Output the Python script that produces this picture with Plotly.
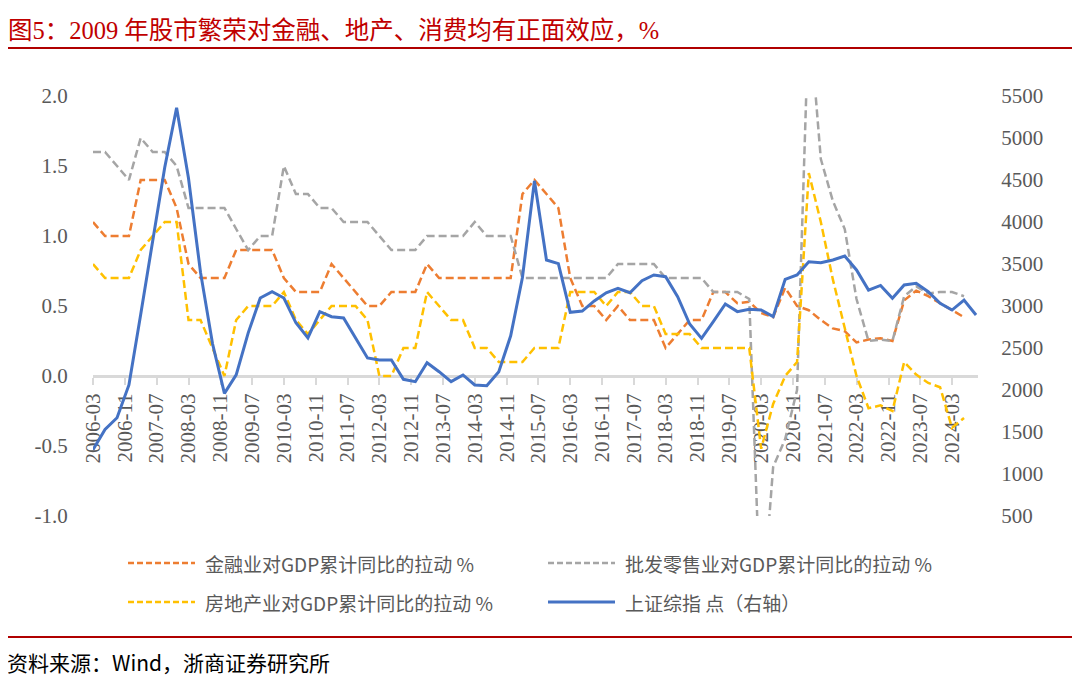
import pandas as pd
import plotly.graph_objects as go

# quarterly points, 2006-03 .. 2024-09
quarters = pd.date_range("2006-03-01", periods=75, freq="3MS")

finance = [1.1, 1.0, 1.0, 1.0, 1.4, 1.4, 1.4, 1.2, 0.8, 0.7, 0.7, 0.7,
           0.9, 0.9, 0.9, 0.9, 0.7, 0.6, 0.6, 0.6, 0.8, 0.7, 0.6, 0.5,
           0.5, 0.6, 0.6, 0.6, 0.8, 0.7, 0.7, 0.7, 0.7, 0.7, 0.7, 0.7,
           1.3, 1.4, 1.3, 1.2, 0.7, 0.5, 0.5, 0.4, 0.5, 0.4, 0.4, 0.4,
           0.2, 0.3, 0.4, 0.4, 0.6, 0.6, 0.52, 0.53, 0.45, 0.42, 0.63, 0.5,
           0.47, 0.4, 0.34, 0.32, 0.24, 0.26, 0.27, 0.25, 0.54, 0.61, 0.57, 0.52,
           0.47, 0.42]

retail = [1.6, 1.6, 1.5, 1.4, 1.7, 1.6, 1.6, 1.5, 1.2, 1.2, 1.2, 1.2,
          1.05, 0.9, 1.0, 1.0, 1.5, 1.3, 1.3, 1.2, 1.2, 1.1, 1.1, 1.1,
          1.0, 0.9, 0.9, 0.9, 1.0, 1.0, 1.0, 1.0, 1.1, 1.0, 1.0, 1.0,
          0.7, 0.7, 0.7, 0.7, 0.7, 0.7, 0.7, 0.7, 0.8, 0.8, 0.8, 0.8,
          0.7, 0.7, 0.7, 0.7, 0.6, 0.6, 0.6, 0.55, -1.77, -0.65, -0.45, -0.1,
          2.6, 1.55, 1.25, 1.05, 0.55, 0.25, 0.26, 0.25, 0.57, 0.64, 0.59, 0.6,
          0.6, 0.57]

property_ = [0.8, 0.7, 0.7, 0.7, 0.9, 1.0, 1.1, 1.1, 0.4, 0.4, 0.2, 0.0,
             0.4, 0.5, 0.5, 0.5, 0.6, 0.4, 0.3, 0.4, 0.5, 0.5, 0.5, 0.4,
             0.0, 0.0, 0.2, 0.2, 0.6, 0.5, 0.4, 0.4, 0.2, 0.2, 0.1, 0.1,
             0.1, 0.2, 0.2, 0.2, 0.6, 0.6, 0.6, 0.5, 0.6, 0.6, 0.5, 0.5,
             0.3, 0.3, 0.3, 0.2, 0.2, 0.2, 0.2, 0.2, -0.52, -0.2, 0.0, 0.1,
             1.45, 1.1, 0.69, 0.35, 0.0, -0.23, -0.21, -0.25, 0.1, 0.01, -0.05, -0.08,
             -0.37, -0.3]

sse = [1290, 1530, 1670, 2060, 2900, 3800, 4650, 5360, 4520, 3400, 2550, 1960,
       2180, 2680, 3095, 3170, 3095, 2800, 2620, 2933, 2873, 2857, 2619, 2381,
       2357, 2357, 2127, 2099, 2325, 2218, 2099, 2179, 2060, 2050, 2218, 2645,
       3340, 4490, 3548, 3505, 2925, 2940, 3060, 3158, 3211, 3158, 3301, 3369,
       3349, 3111, 2786, 2615, 2813, 3024, 2933, 2960, 2952, 2873, 3318, 3369,
       3527, 3516, 3548, 3595, 3429, 3190, 3245, 3091, 3250, 3270, 3170, 3032,
       2952, 3071, 2893]

names = ["金融业对GDP累计同比的拉动 %", "批发零售业对GDP累计同比的拉动 %",
         "房地产业对GDP累计同比的拉动 %", "上证综指 点（右轴）"]
colors = ["#ED7D31", "#A5A5A5", "#FFC000", "#4472C4"]

left_ticks = [-1.0, -0.5, 0.0, 0.5, 1.0, 1.5, 2.0]
left_text = ["-1.0", "-0.5", "0.0", "0.5", "1.0", "1.5", "2.0"]

SERIF = "Liberation Serif, 'Noto Sans CJK SC'"
CJK = "'Noto Sans CJK SC', Liberation Serif"

# the page body has an 8px margin, so work in screen pixels and shift
OFF = 8
W, H = 1080 - 2 * OFF, 684 - 2 * OFF
L, R, T, B = 93 - OFF, 978 - OFF, 96 - OFF, 516 - OFF


def px(x):
    return (x - OFF - L) / (R - L)


def py(y):
    return (B - (y - OFF)) / (B - T)


fig = go.Figure()
dash = "8px,4px"
for vals, name, c in [(finance, names[0], colors[0]), (retail, names[1], colors[1]),
                      (property_, names[2], colors[2])]:
    fig.add_trace(go.Scatter(x=quarters[:len(vals)], y=vals, name=name, mode="lines",
                             line=dict(color=c, width=2.5, dash=dash)))
fig.add_trace(go.Scatter(x=quarters, y=sse, name=names[3], mode="lines", yaxis="y2",
                         line=dict(color=colors[3], width=3)))

fig.update_layout(
    width=W, height=H,
    margin=dict(l=L, r=W - R, t=T, b=H - B),
    plot_bgcolor="white", paper_bgcolor="white",
    showlegend=False,
    title=dict(text="图5：2009 年股市繁荣对金融、地产、消费均有正面效应，%",
               x=0, xanchor="left", y=1 - (30 - OFF) / H, yanchor="middle",
               font=dict(family=SERIF, size=24.5, color="#C00000")),
    xaxis=dict(type="date", range=["2006-03-01", "2024-09-16"],
               anchor="free", position=1 / 3,  # axis line crosses at 0
               tick0="2006-03-01", dtick="M8", tickformat="%Y-%m", tickangle=-90,
               showline=True, linecolor="#D9D9D9", linewidth=3,
               ticks="outside", ticklen=7, tickwidth=2, tickcolor="#D9D9D9",
               showgrid=False, zeroline=False, layer="below traces",
               tickfont=dict(family=SERIF, size=21, color="#595959")),
    yaxis=dict(range=[-1, 2], tickvals=left_ticks, ticktext=left_text,
               showgrid=False, zeroline=False, showline=False,
               ticks="outside", ticklen=20, tickcolor="rgba(0,0,0,0)",
               tickfont=dict(family=SERIF, size=21, color="#595959")),
    yaxis2=dict(range=[500, 5500], dtick=500, overlaying="y", side="right",
                showgrid=False, zeroline=False, showline=False,
                ticks="outside", ticklen=18, tickcolor="rgba(0,0,0,0)",
                tickfont=dict(family=SERIF, size=21, color="#595959")),
)

# legend drawn by hand: two rows, two columns
legend_pos = [(128, 563), (548, 563), (128, 602), (548, 602)]
for i, (lx, ly) in enumerate(legend_pos):
    fig.add_shape(type="line", xref="paper", yref="paper",
                  x0=px(lx), x1=px(lx + 67), y0=py(ly), y1=py(ly),
                  line=dict(color=colors[i], width=3 if i == 3 else 2.5,
                            dash="solid" if i == 3 else "6px,3px"))
    fig.add_annotation(x=px(lx + 75), y=py(ly), xref="paper", yref="paper",
                       text=names[i], showarrow=False, xanchor="left", yanchor="middle",
                       font=dict(family=CJK, size=19, color="#595959"))

# red rules and source note
for ry in [48, 637]:
    fig.add_shape(type="line", xref="paper", yref="paper",
                  x0=px(0), x1=px(1080), y0=py(ry), y1=py(ry),
                  line=dict(color="#B00000", width=2))
fig.add_annotation(x=px(5), y=py(662), xref="paper", yref="paper",
                   text="资料来源：Wind，浙商证券研究所", showarrow=False,
                   xanchor="left", yanchor="middle",
                   font=dict(family=CJK, size=21, color="#000000"))

fig.write_html("out.html")
